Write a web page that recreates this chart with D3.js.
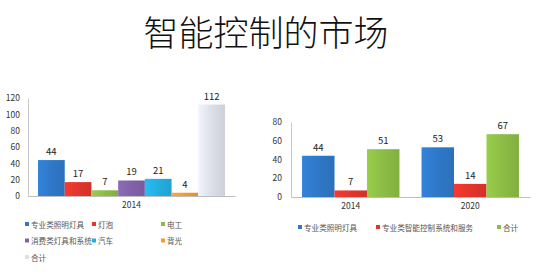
<!DOCTYPE html>
<html>
<head>
<meta charset="utf-8">
<script src="https://cdn.jsdelivr.net/npm/d3@7"></script>
<style>
  body { margin: 0; background: #fff; }
  svg text { font-family: "Noto Sans CJK SC", "Noto Sans", sans-serif; }
</style>
</head>
<body>
<div id="chart"></div>
<script>
// data
const titleText = "智能控制的市场";

const leftCategories = ["2014"];
const leftSeries = ["专业类照明灯具", "灯泡", "电工", "消费类灯具和系统", "汽车", "背光", "合计"];
const leftValues = [[44, 17, 7, 19, 21, 4, 112]];
const leftTicks = [0, 20, 40, 60, 80, 100, 120];

const rightCategories = ["2014", "2020"];
const rightSeries = ["专业类照明灯具", "专业类智能控制系统和服务", "合计"];
const rightValues = [[44, 7, 51], [53, 14, 67]];
const rightTicks = [0, 20, 40, 60, 80];

const leftColors = ["#2f78c8", "#e2352c", "#8cbc45", "#8162a8", "#22aee0", "#f39a32", "#dcdfe8"];
const rightColors = ["#2f78c8", "#e2352c", "#8cbc45"];

const svg = d3.select("#chart").append("svg")
    .attr("width", 536)
    .attr("height", 272);

const defs = svg.append("defs");

// title
svg.append("text")
    .attr("x", 266)
    .attr("y", 30)
    .attr("text-anchor", "middle")
    .attr("dominant-baseline", "central")
    .style("font-size", "35px")
    .style("font-weight", 300)
    .style("fill", "#111")
    .text(titleText);

function drawChart(cfg) {
    let g = svg.append("g");

    let x0 = d3.scaleBand()
        .domain(cfg.categories)
        .range([cfg.left, cfg.right]);

    let x1 = d3.scaleBand()
        .domain(cfg.series)
        .range([0, x0.bandwidth()])
        .paddingOuter(cfg.outer);

    let y = d3.scaleLinear()
        .domain([0, d3.max(cfg.ticks)])
        .range([cfg.bottom, cfg.top]);

    // gradients for the glossy excel look
    cfg.colors.forEach(function(c, i) {
        let grad = defs.append("linearGradient")
            .attr("id", cfg.id + "-g" + i)
            .attr("x1", "0").attr("x2", "1").attr("y1", "0").attr("y2", "0");
        grad.append("stop").attr("offset", "0%").attr("stop-color", d3.color(c).brighter(0.25));
        grad.append("stop").attr("offset", "50%").attr("stop-color", c);
        grad.append("stop").attr("offset", "100%").attr("stop-color", d3.color(c).darker(0.2));
    });

    let yAxis = d3.axisLeft(y)
        .tickValues(cfg.ticks)
        .tickSize(0)
        .tickPadding(cfg.tickPad);

    let yG = g.append("g")
        .attr("transform", `translate(${cfg.left},0)`)
        .call(yAxis);
    yG.select(".domain").attr("stroke", "#c8c8c8");
    yG.selectAll("text").style("font-size", "8.5px").style("fill", "#333");

    let xAxis = d3.axisBottom(x0)
        .tickSize(0)
        .tickPadding(6);

    let xG = g.append("g")
        .attr("transform", `translate(0,${cfg.bottom})`)
        .call(xAxis);
    xG.select(".domain").attr("stroke", "#bdbdbd");
    xG.selectAll("text").style("font-size", "8.5px").style("fill", "#333");

    let groups = g.selectAll(".grp")
        .data(cfg.values)
        .enter().append("g")
        .attr("class", "grp")
        .attr("transform", (d, i) => `translate(${x0(cfg.categories[i])},0)`);

    groups.selectAll("rect")
        .data(d => d)
        .enter().append("rect")
        .attr("x", (d, i) => x1(cfg.series[i]))
        .attr("y", d => y(d))
        .attr("width", x1.bandwidth())
        .attr("height", d => cfg.bottom - y(d))
        .attr("fill", (d, i) => `url(#${cfg.id}-g${i})`);

    groups.selectAll(".lbl")
        .data(d => d)
        .enter().append("text")
        .attr("class", "lbl")
        .attr("x", (d, i) => x1(cfg.series[i]) + x1.bandwidth() / 2)
        .attr("y", d => y(d) - 5)
        .attr("text-anchor", "middle")
        .style("font-size", "9.5px")
        .style("fill", "#222")
        .text(d => d);

    // legend
    let legend = g.selectAll(".legend")
        .data(cfg.series)
        .enter().append("g")
        .attr("class", "legend")
        .attr("transform", (d, i) => `translate(${cfg.legendX[i % cfg.legendX.length]},${cfg.legendY + Math.floor(i / cfg.legendX.length) * cfg.legendRow})`);

    legend.append("rect")
        .attr("x", 0)
        .attr("y", -2)
        .attr("width", 4)
        .attr("height", 4)
        .attr("fill", (d, i) => cfg.colors[i]);

    legend.append("text")
        .attr("x", 6)
        .attr("y", 0)
        .attr("dominant-baseline", "central")
        .style("font-size", "7.6px")
        .style("fill", "#555")
        .text(d => d);
}

drawChart({
    id: "left",
    categories: leftCategories,
    series: leftSeries,
    values: leftValues,
    ticks: leftTicks,
    colors: leftColors,
    left: 28, right: 235, top: 98, bottom: 196,
    outer: 0.375, tickPad: 8,
    legendX: [25, 92, 161], legendY: 224, legendRow: 16.5
});

drawChart({
    id: "right",
    categories: rightCategories,
    series: rightSeries,
    values: rightValues,
    ticks: rightTicks,
    colors: rightColors,
    left: 291, right: 530, top: 122, bottom: 197,
    outer: 0.34, tickPad: 9,
    legendX: [298, 376, 497], legendY: 227, legendRow: 16
});
</script>
</body>
</html>
